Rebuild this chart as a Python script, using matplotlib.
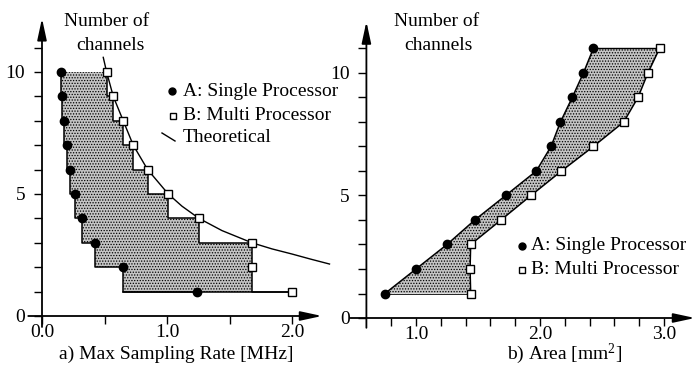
import matplotlib
matplotlib.use("Agg")
import matplotlib.pyplot as plt
from matplotlib.transforms import Affine2D

plt.rcParams['font.family'] = ['Liberation Serif', 'DejaVu Serif']
plt.rcParams['mathtext.fontset'] = 'custom'
plt.rcParams['mathtext.rm'] = 'Liberation Serif'
plt.rcParams['mathtext.it'] = 'Liberation Serif:italic'
plt.rcParams['hatch.linewidth'] = 0.6

# ---------------- data ----------------
channels_a = [1, 2, 3, 4, 5, 6, 7, 8, 9, 10]
rate_single = [1.243, 0.645, 0.427, 0.323, 0.264, 0.224, 0.200, 0.179, 0.163, 0.152]
rate_multi = [2.00, 1.68, 1.68, 1.256, 1.01, 0.845, 0.73, 0.65, 0.57, 0.517]
theo_rate = [0.49, 0.517, 0.57, 0.65, 0.73, 0.845, 1.01, 1.12, 1.256, 1.44, 1.68, 1.84, 2.0, 2.15, 2.30]
theo_channels = [10.6, 10, 9, 8, 7, 6, 5, 4.5, 4, 3.5, 3, 2.75, 2.54, 2.33, 2.13]

channels_b = [1, 2, 3, 4, 5, 6, 7, 8, 9, 10, 11]
area_single = [0.75, 1.00, 1.25, 1.474, 1.723, 1.97, 2.089, 2.165, 2.26, 2.35, 2.43]
area_multi = [1.441, 1.436, 1.441, 1.685, 1.927, 2.173, 2.43, 2.675, 2.79, 2.87, 2.964]

left_xticks = [0.0, 0.5, 1.0, 1.5, 2.0]
left_xlabels = ['0.0', '', '1.0', '', '2.0']
right_xticks = [0.8, 1.0, 1.2, 1.4, 1.6, 1.8, 2.0, 2.2, 2.4, 2.6, 2.8, 3.0]
right_xlabels = ['', '1.0', '', '', '', '', '2.0', '', '', '', '', '3.0']
yticks = [0, 1, 2, 3, 4, 5, 6, 7, 8, 9, 10, 11]
ylabels = ['0', '', '', '', '', '5', '', '', '', '', '10', '']

label_single = 'A: Single Processor'
label_multi = 'B: Multi Processor'
label_theo = 'Theoretical'

W, H = 699, 378
fig = plt.figure(figsize=(W / 100, H / 100), dpi=100)
px = Affine2D().scale(1 / W, -1 / H).translate(0, 1) + fig.transFigure

FS = 14
FILL = '#c4c4c4'


def make_axes(box, x0px, x0val, sx, y0px, sy):
    L, R, T, B = box
    ax = fig.add_axes([L / W, 1 - B / H, (R - L) / W, (B - T) / H])
    ax.set_xlim(x0val + (L - x0px) / sx, x0val + (R - x0px) / sx)
    ax.set_ylim((y0px - B) / sy, (y0px - T) / sy)
    ax.patch.set_alpha(0)
    return ax


def style_axes(ax, ystart, xstart, xend, yend, yaxis_x, xticks, xlabels):
    for s in ax.spines.values():
        s.set_visible(False)
    ax.spines['left'].set_position(('data', yaxis_x))
    ax.spines['bottom'].set_position(('data', 0))
    ax.set_xticks(xticks)
    ax.set_xticklabels(xlabels, fontsize=FS)
    ax.set_yticks(yticks)
    ax.set_yticklabels(ylabels, fontsize=FS)
    ax.tick_params(axis='both', direction='out', width=1.0, color='black')
    ax.tick_params(axis='y', pad=6, length=6)
    ax.tick_params(axis='x', pad=0, length=5.5)
    arrow = dict(arrowstyle='-|>,head_length=1.3,head_width=0.28', lw=1.3,
                 color='black', shrinkA=0, shrinkB=0)
    ax.annotate('', xy=(xend, 0), xytext=(xstart, 0), arrowprops=arrow,
                annotation_clip=False)
    ax.annotate('', xy=(yaxis_x, yend), xytext=(yaxis_x, ystart), arrowprops=arrow,
                annotation_clip=False)


# ---------------- left panel ----------------
axL = make_axes((10, 345, 5, 340), 42, 0.0, 125, 316, 24.4)
style_axes(axL, -0.45, -0.11, 2.24, 12.2, 0.0, left_xticks, left_xlabels)

axL.fill_betweenx(channels_a, rate_single, rate_multi, step='pre',
                  facecolor=FILL, edgecolor='none', hatch='......', lw=0, zorder=1)
axL.plot(rate_single, channels_a, drawstyle='steps-post', color='black', lw=1.1, zorder=2)
axL.plot(rate_multi, channels_a, drawstyle='steps-post', color='black', lw=1.1, zorder=2)
axL.plot([rate_single[1], rate_multi[0]], [channels_a[0], channels_a[0]],
         color='black', lw=1.1, zorder=2)
axL.plot(theo_rate, theo_channels, color='black', lw=1.0, zorder=2, clip_on=False)
axL.plot(rate_single, channels_a, 'o', color='black', ms=6, zorder=3)
axL.plot(rate_multi, channels_a, 's', mfc='white', mec='black', mew=1.0, ms=5.5, zorder=3)

# ---------------- right panel ----------------
axR = make_axes((345, 699, 5, 340), 416, 1.0, 124, 318, 24.5)
style_axes(axR, -0.4, 0.47, 3.25, 12.1, 0.6, right_xticks, right_xlabels)

axR.fill_betweenx(channels_b, area_single, area_multi,
                  facecolor=FILL, edgecolor='none', hatch='......', lw=0, zorder=1)
axR.plot(area_single, channels_b, color='black', lw=1.1, zorder=2)
axR.plot(area_multi, channels_b, color='black', lw=1.1, zorder=2)
axR.plot([area_single[-1], area_multi[-1]], [channels_b[-1], channels_b[-1]],
         color='black', lw=1.0, zorder=2)
axR.plot([area_single[0], area_multi[0]], [channels_b[0], channels_b[0]],
         color='black', lw=0.6, zorder=2)
axR.plot(area_single, channels_b, 'o', color='black', ms=6, zorder=3)
axR.plot(area_multi, channels_b, 's', mfc='white', mec='black', mew=1.0, ms=5.5, zorder=3)

# ---------------- texts and legends ----------------
def t(x, y, s, ha='left', va='center'):
    fig.text(x, y, s, transform=px, ha=ha, va=va, fontsize=FS)

t(107, 21, 'Number of', ha='center')
t(110, 45, 'channels', ha='center')
t(437, 21, 'Number of', ha='center')
t(438, 45, 'channels', ha='center')
t(176, 354, 'a) Max Sampling Rate [MHz]', ha='center')
t(565, 354, r'b) Area [mm$^{2}$]', ha='center')

# left legend
fig.lines.append(plt.Line2D([172], [91], marker='o', color='black', ms=5, ls='none', transform=px))
fig.lines.append(plt.Line2D([173], [116], marker='s', mfc='white', mec='black', mew=1.0, ms=4.5,
                            ls='none', transform=px))
fig.lines.append(plt.Line2D([162, 175], [133, 141], color='black', lw=1.0, transform=px))
t(183, 91, label_single)
t(183, 116, label_multi)
t(183, 137, label_theo)

# right legend
fig.lines.append(plt.Line2D([522], [246], marker='o', color='black', ms=5, ls='none', transform=px))
fig.lines.append(plt.Line2D([522], [270], marker='s', mfc='white', mec='black', mew=1.0, ms=4.5,
                            ls='none', transform=px))
t(531, 246, label_single)
t(531, 270, label_multi)

fig.savefig('out.png', dpi=100, facecolor='white')
